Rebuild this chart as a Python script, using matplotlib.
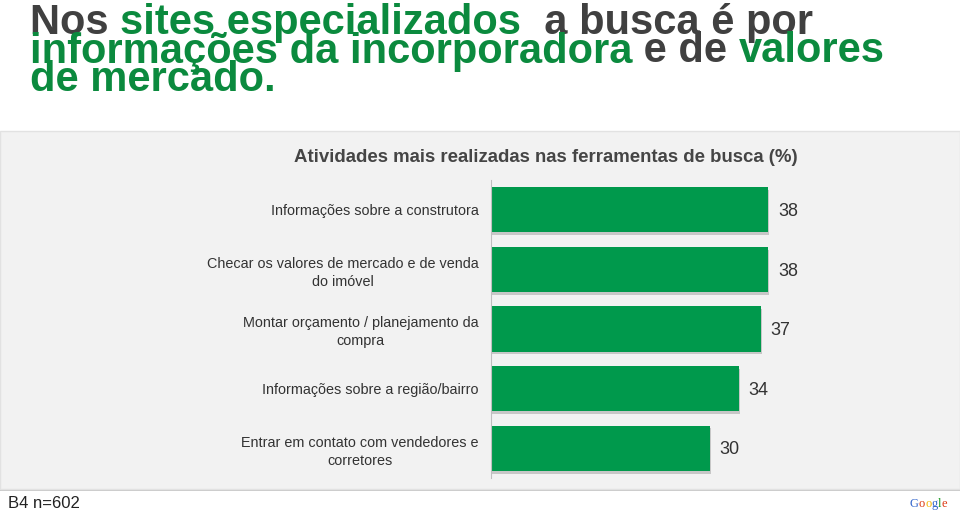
import matplotlib
matplotlib.use('Agg')
import matplotlib.pyplot as plt
import matplotlib.patheffects as pe
from matplotlib.patches import Rectangle

# dados do grafico
categorias = ['Informações sobre a construtora',
              'Checar os valores de mercado e de venda\ndo imóvel',
              'Montar orçamento / planejamento da\ncompra',
              'Informações sobre a região/bairro',
              'Entrar em contato com vendedores e\ncorretores']
valores = [38, 38, 37, 34, 30]
titulo_grafico = 'Atividades mais realizadas nas ferramentas de busca (%)'
rodape = 'B4 n=602'

CINZA = '#404040'
VERDE = '#0b8a3e'
titulo = [
    [('Nos ', CINZA), ('sites especializados', VERDE), ('  a busca é por', CINZA)],
    [('informações da incorporadora', VERDE), (' e de ', CINZA), ('valores', VERDE)],
    [('de mercado.', VERDE)],
]
logo = [('G', '#3366cc'), ('o', '#dc3912'), ('o', '#f4b400'), ('g', '#3366cc'),
        ('l', '#109618'), ('e', '#dc3912')]

W, H = 960, 513
plt.rcParams['font.family'] = ['Liberation Sans', 'DejaVu Sans']
fig = plt.figure(figsize=(W / 100, H / 100), dpi=100)
fig.patch.set_facecolor('white')


def fx(px):
    return px / W


def fy(py):
    return 1 - py / H


def texto_colorido(x, y, partes, **kw):
    # escreve pedacos de texto lado a lado com cores diferentes
    r = fig.canvas.get_renderer()
    for s, c in partes:
        t = fig.text(fx(x), fy(y), s, color=c, va='baseline', **kw)
        x += t.get_window_extent(renderer=r).width


# painel cinza do grafico
fig.patches.append(Rectangle((0, fy(491)), 1, fy(489) - fy(491), transform=fig.transFigure,
                             facecolor='#c9c9c9', edgecolor='none', zorder=-2))
fig.patches.append(Rectangle((0, fy(489)), 1, fy(131) - fy(489), transform=fig.transFigure,
                             facecolor='#f2f2f2', edgecolor='#e2e2e2', lw=1, zorder=-2))

# titulo
for i, linha in enumerate(titulo):
    texto_colorido(30, 34 + i * 28.5, linha, fontsize=30, fontweight='bold')

fig.text(fx(546), fy(157), titulo_grafico, ha='center', va='center',
         fontsize=13.4, fontweight='bold', color='#454545')

ax = fig.add_axes([fx(491), 35 / H, (W - 491) / W, 298 / H])
ax.set_facecolor('none')
pos = list(range(len(valores)))
bars = ax.barh(pos, valores, height=0.76, color='#00994c')
for b in bars:
    b.set_path_effects([pe.SimplePatchShadow(offset=(1, -2), shadow_rgbFace='#777777', alpha=0.35),
                        pe.Normal()])
ax.set_xlim(0, (W - 491) / 7.29)
ax.set_ylim(4.5, -0.5)
ax.set_yticks(pos)
ax.set_yticklabels(categorias, fontsize=10.4, color='#333333', multialignment='center',
                   linespacing=1.35)
ax.tick_params(axis='y', length=0, pad=9)
ax.set_xticks([])
for s in ['top', 'right', 'bottom']:
    ax.spines[s].set_visible(False)
ax.spines['left'].set_color('#bfbfbf')

for p, v in zip(pos, valores):
    ax.text(v + 1.35, p + 0.03, str(v), va='center', ha='left', fontsize=13, color='#333333')

fig.text(fx(8), fy(508), rodape, fontsize=12, color='#222222', va='baseline')
texto_colorido(910, 507, logo, fontsize=9, family='Liberation Serif')

fig.savefig('out.png', dpi=100)
